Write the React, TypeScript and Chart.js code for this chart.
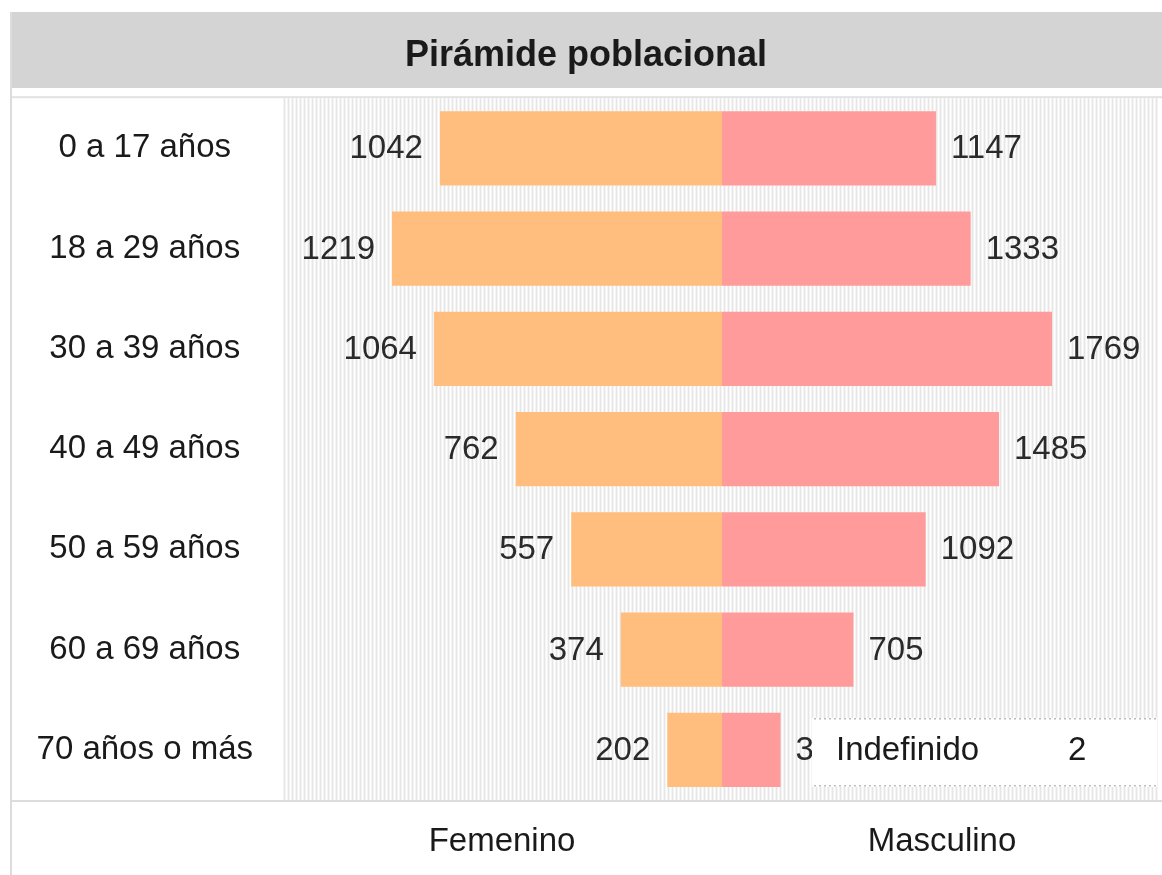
import { useEffect, useRef } from "react";
import { Chart, registerables } from "chart.js";

Chart.register(...registerables);

const titleText = "Pirámide poblacional";
const ageGroups = [
  "0 a 17 años",
  "18 a 29 años",
  "30 a 39 años",
  "40 a 49 años",
  "50 a 59 años",
  "60 a 69 años",
  "70 años o más",
];
const femenino = [1042, 1219, 1064, 762, 557, 374, 202];
const masculino = [1147, 1333, 1769, 1485, 1092, 705, 314];
const sideLabels = ["Femenino", "Masculino"];
const undefinedLabel = "Indefinido";
const undefinedValue = 2;

const FONT = '"Liberation Sans", Arial, sans-serif';
const TEXT = "#1a1a1a";

export default function App() {
  const ref = useRef<HTMLCanvasElement | null>(null);

  useEffect(() => {
    document.body.style.margin = "0";
    const canvas = ref.current;
    if (!canvas) return;
    Chart.defaults.font.family = FONT;

    const rangeF = (Math.max(...femenino) * 4) / 3;
    const rangeM = (Math.max(...masculino) * 4) / 3;

    const pc = document.createElement("canvas");
    pc.width = 4;
    pc.height = 4;
    const pctx = pc.getContext("2d")!;
    const cols = ["#e6e6e6", "#f4f4f4", "#ffffff", "#f4f4f4"];
    cols.forEach((c, i) => {
      pctx.fillStyle = c;
      pctx.fillRect(i, 0, 1, 4);
    });

    const decor = {
      id: "decor",
      beforeDraw(chart: any) {
        const { ctx, chartArea, width, height } = chart;
        ctx.save();
        ctx.fillStyle = "#ffffff";
        ctx.fillRect(0, 0, width, height);
        const tb = chart.titleBlock;
        const top = tb ? tb.top : 12;
        ctx.fillStyle = "#d4d4d4";
        ctx.fillRect(10, top, width - 10, 76);
        ctx.fillStyle = "#e2e2e2";
        ctx.fillRect(10, chartArea.top - 2, width - 10, 2);
        const pat = ctx.createPattern(pc, "repeat");
        ctx.fillStyle = pat;
        ctx.fillRect(chartArea.left, chartArea.top, chartArea.right - chartArea.left - 3, chartArea.bottom - chartArea.top);
        ctx.fillStyle = "#dcdcdc";
        ctx.fillRect(10, chartArea.bottom, width - 10, 2);
        ctx.fillRect(10, top, 2, height - top);
        ctx.restore();
      },
      afterDatasetsDraw(chart: any) {
        const { ctx } = chart;
        ctx.save();
        ctx.font = `33px ${FONT}`;
        ctx.fillStyle = "#2a2a2a";
        ctx.textBaseline = "middle";
        const mf = chart.getDatasetMeta(0);
        mf.data.forEach((el: any, i: number) => {
          ctx.textAlign = "right";
          ctx.fillText(String(femenino[i]), el.x - 17, el.y + 1);
        });
        const mm = chart.getDatasetMeta(1);
        mm.data.forEach((el: any, i: number) => {
          ctx.textAlign = "left";
          ctx.fillText(String(masculino[i]), el.x + 15, el.y + 1);
        });
        ctx.restore();
      },
      afterDraw(chart: any) {
        const { ctx, chartArea } = chart;
        const yc = chart.scales.y.getPixelForValue(ageGroups.length - 1);
        const left = chartArea.left + 530;
        const right = chartArea.right - 5;
        const top = yc - 32;
        const h = 69;
        ctx.save();
        ctx.fillStyle = "#ffffff";
        ctx.fillRect(left, top, right - left, h);
        ctx.strokeStyle = "#bdbdbd";
        ctx.lineWidth = 1.5;
        ctx.setLineDash([2, 3]);
        ctx.beginPath();
        ctx.moveTo(left + 2, top + 1);
        ctx.lineTo(right, top + 1);
        ctx.moveTo(left + 2, top + h - 1);
        ctx.lineTo(right, top + h - 1);
        ctx.stroke();
        ctx.setLineDash([]);
        ctx.font = `33px ${FONT}`;
        ctx.fillStyle = TEXT;
        ctx.textBaseline = "middle";
        ctx.textAlign = "left";
        ctx.fillText(undefinedLabel, left + 24, yc + 1);
        ctx.fillText(String(undefinedValue), left + 256, yc + 1);
        ctx.restore();
      },
    };

    const chart = new Chart(canvas, {
      type: "bar",
      data: {
        labels: ageGroups,
        datasets: [
          {
            label: sideLabels[0],
            data: femenino,
            xAxisID: "xF",
            backgroundColor: "#ffbe7d",
            borderWidth: 0,
            grouped: false,
            barPercentage: 0.74,
            categoryPercentage: 1,
          } as any,
          {
            label: sideLabels[1],
            data: masculino,
            xAxisID: "xM",
            backgroundColor: "#ff9b9b",
            borderWidth: 0,
            grouped: false,
            barPercentage: 0.74,
            categoryPercentage: 1,
          } as any,
        ],
      },
      options: {
        indexAxis: "y",
        animation: false,
        responsive: false,
        maintainAspectRatio: false,
        layout: { padding: { top: 12, left: 10, right: 0, bottom: 0 } },
        plugins: {
          legend: { display: false },
          tooltip: { enabled: false },
          title: {
            display: true,
            text: titleText,
            color: TEXT,
            font: { size: 36, weight: "bold", family: FONT },
            padding: { top: 22, bottom: 21 },
          },
        },
        scales: {
          y: {
            type: "category",
            grid: { display: false, drawTicks: false },
            border: { display: false },
            ticks: {
              color: TEXT,
              font: { size: 33, family: FONT },
              crossAlign: "center",
              padding: 29,
            },
            afterFit: (axis: any) => {
              axis.width = 272;
            },
          },
          xF: {
            type: "linear",
            position: "bottom",
            reverse: true,
            min: -rangeF,
            max: rangeF,
            grid: { display: false, drawTicks: false },
            border: { display: false },
            afterBuildTicks: (axis: any) => {
              axis.ticks = [{ value: rangeF / 2 }, { value: -rangeF / 2 }];
            },
            ticks: {
              color: TEXT,
              font: { size: 33, family: FONT },
              padding: 22,
              autoSkip: false,
              maxRotation: 0,
              callback: (_v: any, i: number) => sideLabels[i],
            },
            afterFit: (axis: any) => {
              axis.height = 75;
            },
          },
          xM: {
            type: "linear",
            display: false,
            min: -rangeM,
            max: rangeM,
          },
        } as any,
      },
      plugins: [decor],
    });
    return () => chart.destroy();
  }, []);

  return (
    <div style={{ position: "absolute", left: 0, top: 0, width: 1162, height: 875, background: "#fff" }}>
      <canvas ref={ref} width={1162} height={875} style={{ width: 1162, height: 875, display: "block" }} />
    </div>
  );
}
